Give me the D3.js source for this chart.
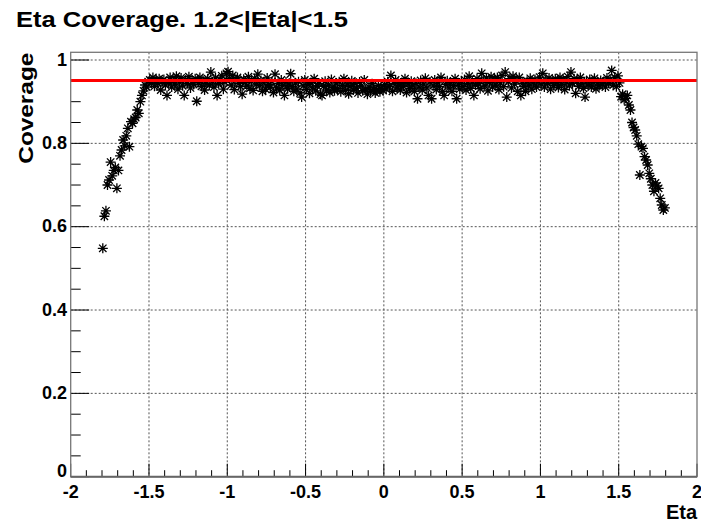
<!DOCTYPE html>
<html>
<head>
<meta charset="utf-8">
<script src="https://cdn.jsdelivr.net/npm/d3@7"></script>
<style>
	body { margin: 0; background: #fff; }
	text { font-family: 'Liberation Sans', Arial, sans-serif; font-weight: bold; fill: #000; }
</style>
</head>
<body>
<svg id="chart" width="701" height="522"></svg>
<script>
// histogram binning in eta (bins of 0.01 from -1.8)
const etaLow = -1.8;
const binWidth = 0.01;

// coverage per eta bin
const covEndcapNeg = [0.548, 0.625, 0.638, 0.700, 0.712, 0.755, 0.722, 0.735, 0.742, 0.692,
	0.735, 0.770, 0.784, 0.808, 0.794, 0.818, 0.836, 0.792, 0.852, 0.848,
	0.858, 0.862, 0.880, 0.872, 0.900, 0.915, 0.926, 0.940, 0.935, 0.948];
const covBarrelA = [0.952, 0.945, 0.958, 0.937, 0.950, 0.944, 0.955, 0.928, 0.948, 0.953,
	0.940, 0.915, 0.946, 0.958, 0.935, 0.950, 0.942, 0.961, 0.930, 0.947,
	0.957, 0.938, 0.915, 0.952, 0.944, 0.960, 0.933, 0.949, 0.941, 0.955,
	0.901, 0.946, 0.958, 0.937, 0.951, 0.928, 0.944, 0.955, 0.940, 0.971,
	0.948, 0.935, 0.957, 0.915, 0.943, 0.952, 0.962, 0.930, 0.947, 0.968];
const covBarrelB = [0.972, 0.955, 0.940, 0.963, 0.929, 0.951, 0.958, 0.944, 0.936, 0.918,
	0.954, 0.946, 0.938, 0.960, 0.932, 0.949, 0.927, 0.955, 0.942, 0.966,
	0.938, 0.951, 0.925, 0.945, 0.930, 0.957, 0.941, 0.935, 0.948, 0.922,
	0.966, 0.933, 0.944, 0.928, 0.952, 0.939, 0.915, 0.947, 0.931, 0.942,
	0.967, 0.936, 0.925, 0.945, 0.930, 0.948, 0.921, 0.911, 0.938, 0.952];
const covBarrelC = [0.929, 0.941, 0.920, 0.946, 0.933, 0.955, 0.926, 0.938, 0.944, 0.918,
	0.915, 0.937, 0.949, 0.928, 0.940, 0.922, 0.953, 0.934, 0.926, 0.945,
	0.931, 0.948, 0.924, 0.939, 0.955, 0.927, 0.942, 0.919, 0.936, 0.950,
	0.928, 0.944, 0.933, 0.921, 0.947, 0.938, 0.926, 0.952, 0.930, 0.918,
	0.935, 0.925, 0.943, 0.930, 0.921, 0.928, 0.939, 0.924, 0.932, 0.927];
const covBarrelD = [0.941, 0.930, 0.948, 0.936, 0.963, 0.925, 0.944, 0.952, 0.933, 0.940,
	0.928, 0.946, 0.937, 0.955, 0.922, 0.943, 0.931, 0.949, 0.938, 0.925,
	0.944, 0.907, 0.935, 0.951, 0.928, 0.942, 0.956, 0.933, 0.915, 0.947,
	0.907, 0.938, 0.952, 0.929, 0.945, 0.936, 0.958, 0.924, 0.915, 0.941,
	0.950, 0.933, 0.946, 0.925, 0.939, 0.955, 0.907, 0.942, 0.930, 0.948];
const covBarrelE = [0.936, 0.953, 0.928, 0.944, 0.961, 0.932, 0.947, 0.915, 0.940, 0.955,
	0.943, 0.931, 0.968, 0.950, 0.938, 0.957, 0.926, 0.946, 0.960, 0.935,
	0.952, 0.940, 0.958, 0.929, 0.945, 0.963, 0.936, 0.971, 0.911, 0.948,
	0.955, 0.933, 0.961, 0.942, 0.950, 0.925, 0.958, 0.915, 0.944, 0.937,
	0.925, 0.949, 0.938, 0.956, 0.930, 0.945, 0.953, 0.935, 0.948, 0.959];
const covBarrelF = [0.942, 0.968, 0.935, 0.951, 0.944, 0.957, 0.930, 0.948, 0.939, 0.955,
	0.946, 0.934, 0.958, 0.941, 0.952, 0.929, 0.947, 0.960, 0.938, 0.971,
	0.944, 0.955, 0.920, 0.949, 0.937, 0.958, 0.943, 0.932, 0.911, 0.950,
	0.940, 0.953, 0.935, 0.947, 0.956, 0.931, 0.945, 0.938, 0.951, 0.942,
	0.948, 0.935, 0.957, 0.944, 0.952, 0.975, 0.940, 0.958, 0.936, 0.962];
const covEndcapPos = [0.945, 0.912, 0.918, 0.905, 0.908, 0.915, 0.892, 0.880, 0.850, 0.838,
	0.832, 0.818, 0.798, 0.724, 0.792, 0.788, 0.768, 0.760, 0.748, 0.728,
	0.715, 0.700, 0.685, 0.705, 0.698, 0.692, 0.668, 0.652, 0.640, 0.645];

// constant fit
const fitLevel = 0.951;

const xTicks = [-2, -1.5, -1, -0.5, 0, 0.5, 1, 1.5, 2];
const xTickLabels = ['-2', '-1.5', '-1', '-0.5', '0', '0.5', '1', '1.5', '2'];
const yTicks = [0, 0.2, 0.4, 0.6, 0.8, 1];
const yTickLabels = ['0', '0.2', '0.4', '0.6', '0.8', '1'];

const coverage = [].concat(covEndcapNeg, covBarrelA, covBarrelB, covBarrelC,
	covBarrelD, covBarrelE, covBarrelF, covEndcapPos);
const points = coverage.map((v, i) => ({ eta: etaLow + binWidth * (i + 0.5), cov: v }));

const svg = d3.select('#chart');
const frame = { left: 70.7, right: 697, top: 52.3, bottom: 476.7 };

const x = d3.scaleLinear().domain([-2, 2]).range([frame.left, frame.right]);
const y = d3.scaleLinear().domain([0, 1.0185]).range([frame.bottom, frame.top]);

svg.append('rect')
	.attr('width', 701).attr('height', 522)
	.style('fill', '#fff')

// grid
const grid = svg.append('g').attr('id', 'grid')
grid.selectAll('line.gx')
	.data(xTicks.slice(1, -1))
	.enter()
	.append('line')
	.attr('class', 'gx')
	.attr('x1', d => x(d)).attr('x2', d => x(d))
	.attr('y1', frame.top).attr('y2', frame.bottom)
grid.selectAll('line.gy')
	.data(yTicks.slice(1))
	.enter()
	.append('line')
	.attr('class', 'gy')
	.attr('x1', frame.left).attr('x2', frame.right)
	.attr('y1', d => y(d)).attr('y2', d => y(d))
grid.selectAll('line')
	.style('stroke', '#555')
	.style('stroke-width', 1)
	.style('stroke-dasharray', '2,2')

// ticks, inside the frame like ROOT draws them
const ticks = svg.append('g').attr('id', 'ticks').style('stroke', '#000').style('stroke-width', 1)
ticks.selectAll('line.xt')
	.data(d3.range(-20, 21).map(d => d / 10))
	.enter()
	.append('line')
	.attr('x1', d => x(d)).attr('x2', d => x(d))
	.attr('y1', frame.bottom)
	.attr('y2', (d, i) => frame.bottom - (i % 5 == 0 ? 13 : 6.5))
ticks.selectAll('line.yt')
	.data(d3.range(0, 21).map(d => d / 20))
	.enter()
	.append('line')
	.attr('y1', d => y(d)).attr('y2', d => y(d))
	.attr('x1', frame.left)
	.attr('x2', (d, i) => frame.left + (i % 4 == 0 ? 18.5 : 10))

// asterisk markers (ROOT marker 3)
const r = 5, s = 3.7;
const star = `M${-r},0H${r}M0,${-r}V${r}M${-s},${-s}L${s},${s}M${-s},${s}L${s},${-s}`;
svg.append('g').attr('id', 'points')
	.selectAll('path')
	.data(points)
	.enter()
	.append('path')
	.attr('d', star)
	.attr('transform', d => `translate(${x(d.eta)},${y(d.cov)})`)
	.style('fill', 'none')
	.style('stroke', '#000')
	.style('stroke-width', 1.3)

// fit line
svg.append('line')
	.attr('x1', x(-2)).attr('x2', x(2))
	.attr('y1', y(fitLevel)).attr('y2', y(fitLevel))
	.style('stroke', '#f00')
	.style('stroke-width', 3)

// frame
svg.append('rect')
	.attr('x', frame.left).attr('y', frame.top)
	.attr('width', frame.right - frame.left)
	.attr('height', frame.bottom - frame.top)
	.style('fill', 'none')
	.style('stroke', '#777')
	.style('stroke-width', 1.3)
svg.append('line')
	.attr('x1', frame.left).attr('x2', frame.right)
	.attr('y1', frame.bottom).attr('y2', frame.bottom)
	.style('stroke', '#666')
	.style('stroke-width', 2)

// tick labels
svg.append('g').selectAll('text')
	.data(xTicks)
	.enter()
	.append('text')
	.attr('x', d => x(d))
	.attr('y', 497.5)
	.attr('text-anchor', 'middle')
	.style('font-size', '18px')
	.text((d, i) => xTickLabels[i])
svg.append('g').selectAll('text')
	.data(yTicks)
	.enter()
	.append('text')
	.attr('x', 67)
	.attr('y', d => y(d) + (d == 0 ? 0 : 5.5))
	.attr('text-anchor', 'end')
	.style('font-size', '18px')
	.text((d, i) => yTickLabels[i])

// titles
svg.append('text')
	.attr('x', 16).attr('y', 26.5)
	.attr('textLength', 332).attr('lengthAdjust', 'spacingAndGlyphs')
	.style('font-size', '22px')
	.text('Eta Coverage. 1.2<|Eta|<1.5')
svg.append('text')
	.attr('x', 697).attr('y', 519)
	.attr('text-anchor', 'end')
	.style('font-size', '20px')
	.text('Eta')
svg.append('text')
	.attr('transform', 'translate(33,52.7) rotate(-90)')
	.attr('text-anchor', 'end')
	.attr('textLength', 111).attr('lengthAdjust', 'spacingAndGlyphs')
	.style('font-size', '21px')
	.text('Coverage')
</script>
</body>
</html>
